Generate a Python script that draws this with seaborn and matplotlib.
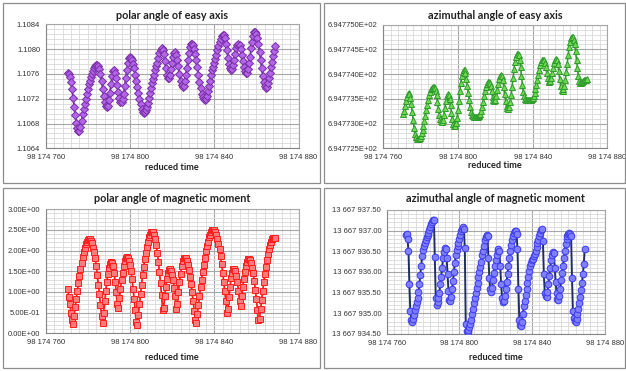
import numpy as np
import matplotlib
matplotlib.use("Agg")
import matplotlib.pyplot as plt
import seaborn as sns
from matplotlib.ticker import FixedLocator, FuncFormatter, MultipleLocator
from matplotlib.patches import Rectangle

# ---------------- data ----------------
time_start = 98174770.5
time_step = 0.5

polar_easy = [
    1.10762, 1.10760, 1.10755, 1.10747, 1.10735, 1.10721, 1.10707, 1.10693, 1.10681, 1.10673,
    1.10668, 1.10668, 1.10674, 1.10684, 1.10695, 1.10704, 1.10712, 1.10720, 1.10728, 1.10736,
    1.10743, 1.10749, 1.10755, 1.10760, 1.10765, 1.10769, 1.10772, 1.10774, 1.10775, 1.10773,
    1.10768, 1.10760, 1.10749, 1.10736, 1.10724, 1.10715, 1.10708, 1.10706, 1.10709, 1.10718,
    1.10730, 1.10744, 1.10756, 1.10764, 1.10766, 1.10762, 1.10754, 1.10742, 1.10731, 1.10721,
    1.10715, 1.10714, 1.10719, 1.10728, 1.10740, 1.10753, 1.10766, 1.10777, 1.10785, 1.10787,
    1.10786, 1.10782, 1.10776, 1.10769, 1.10759, 1.10749, 1.10739, 1.10729, 1.10719, 1.10711,
    1.10704, 1.10699, 1.10697, 1.10698, 1.10701, 1.10706, 1.10713, 1.10721, 1.10729, 1.10737,
    1.10745, 1.10752, 1.10759, 1.10766, 1.10772, 1.10778, 1.10786, 1.10793, 1.10798, 1.10801,
    1.10799, 1.10792, 1.10781, 1.10769, 1.10759, 1.10753, 1.10754, 1.10759, 1.10768, 1.10778,
    1.10787, 1.10793, 1.10795, 1.10791, 1.10783, 1.10772, 1.10760, 1.10749, 1.10742, 1.10739,
    1.10741, 1.10748, 1.10758, 1.10770, 1.10783, 1.10794, 1.10803, 1.10808, 1.10809, 1.10806,
    1.10800, 1.10792, 1.10782, 1.10771, 1.10759, 1.10747, 1.10737, 1.10728, 1.10722, 1.10719,
    1.10718, 1.10720, 1.10725, 1.10732, 1.10740, 1.10749, 1.10758, 1.10766, 1.10771, 1.10777,
    1.10784, 1.10791, 1.10798, 1.10805, 1.10812, 1.10817, 1.10821, 1.10823, 1.10822, 1.10818,
    1.10809, 1.10798, 1.10786, 1.10776, 1.10769, 1.10766, 1.10768, 1.10774, 1.10783, 1.10792,
    1.10801, 1.10807, 1.10809, 1.10807, 1.10800, 1.10791, 1.10781, 1.10771, 1.10764, 1.10761,
    1.10762, 1.10768, 1.10777, 1.10788, 1.10801, 1.10812, 1.10821, 1.10827, 1.10828, 1.10825,
    1.10818, 1.10808, 1.10796, 1.10783, 1.10769, 1.10757, 1.10747, 1.10740, 1.10737, 1.10739,
    1.10745, 1.10753, 1.10762, 1.10771, 1.10780, 1.10789, 1.10797, 1.10805,
]

azimuth_easy = [
    694.77319, 694.77326, 694.77336, 694.77346, 694.77354, 694.77359, 694.77361, 694.77359, 694.77352, 694.77340,
    694.77324, 694.77307, 694.77291, 694.77279, 694.77272, 694.77269, 694.77268, 694.77268, 694.77270, 694.77274,
    694.77280, 694.77287, 694.77296, 694.77306, 694.77316, 694.77327, 694.77338, 694.77348, 694.77357, 694.77364,
    694.77369, 694.77372, 694.77373, 694.77373, 694.77371, 694.77366, 694.77357, 694.77344, 694.77330, 694.77318,
    694.77309, 694.77305, 694.77304, 694.77308, 694.77318, 694.77332, 694.77346, 694.77356, 694.77360, 694.77357,
    694.77349, 694.77337, 694.77322, 694.77309, 694.77300, 694.77296, 694.77296, 694.77301, 694.77312, 694.77327,
    694.77346, 694.77365, 694.77383, 694.77397, 694.77405, 694.77409, 694.77408, 694.77402, 694.77391, 694.77377,
    694.77362, 694.77347, 694.77334, 694.77324, 694.77318, 694.77315, 694.77314, 694.77313, 694.77313, 694.77313,
    694.77314, 694.77315, 694.77317, 694.77320, 694.77326, 694.77334, 694.77344, 694.77355, 694.77366, 694.77375,
    694.77381, 694.77384, 694.77385, 694.77383, 694.77376, 694.77365, 694.77354, 694.77347, 694.77345, 694.77348,
    694.77356, 694.77367, 694.77380, 694.77391, 694.77397, 694.77399, 694.77396, 694.77388, 694.77375, 694.77359,
    694.77345, 694.77335, 694.77331, 694.77330, 694.77334, 694.77344, 694.77358, 694.77375, 694.77393, 694.77410,
    694.77425, 694.77435, 694.77440, 694.77441, 694.77438, 694.77429, 694.77415, 694.77397, 694.77379, 694.77364,
    694.77355, 694.77350, 694.77348, 694.77347, 694.77347, 694.77347, 694.77347, 694.77348, 694.77349, 694.77351,
    694.77355, 694.77361, 694.77369, 694.77379, 694.77389, 694.77399, 694.77409, 694.77418, 694.77424, 694.77428,
    694.77429, 694.77428, 694.77423, 694.77414, 694.77403, 694.77393, 694.77387, 694.77385, 694.77387, 694.77393,
    694.77402, 694.77413, 694.77422, 694.77428, 694.77430, 694.77428, 694.77420, 694.77406, 694.77390, 694.77376,
    694.77368, 694.77366, 694.77369, 694.77377, 694.77389, 694.77404, 694.77421, 694.77438, 694.77454, 694.77466,
    694.77473, 694.77476, 694.77475, 694.77470, 694.77460, 694.77446, 694.77429, 694.77412, 694.77396, 694.77387,
    694.77383, 694.77383, 694.77385, 694.77387, 694.77388, 694.77389, 694.77389, 694.77390,
]

polar_moment = [
    1.06, 0.88, 0.70, 0.50, 0.32, 0.22, 0.43, 0.63, 0.83, 1.03,
    1.21, 1.39, 1.56, 1.71, 1.84, 1.96, 2.06, 2.15, 2.21, 2.25,
    2.28, 2.28, 2.24, 2.18, 2.07, 1.96, 1.81, 1.63, 1.41, 1.18,
    0.95, 0.69, 0.43, 0.25, 0.50, 0.77, 1.02, 1.25, 1.43, 1.57,
    1.67, 1.72, 1.71, 1.62, 1.47, 1.25, 0.99, 0.70, 0.62, 0.85,
    1.08, 1.29, 1.47, 1.62, 1.74, 1.81, 1.84, 1.82, 1.76, 1.65,
    1.50, 1.31, 1.08, 0.83, 0.56, 0.27, 0.20, 0.45, 0.70, 0.94,
    1.18, 1.40, 1.60, 1.79, 1.95, 2.09, 2.22, 2.32, 2.39, 2.44,
    2.46, 2.45, 2.39, 2.28, 2.13, 1.95, 1.73, 1.48, 1.21, 0.92,
    0.56, 0.62, 0.90, 1.12, 1.32, 1.45, 1.53, 1.55, 1.51, 1.42,
    1.28, 1.10, 0.90, 0.60, 0.70, 1.00, 1.24, 1.44, 1.62, 1.74,
    1.81, 1.83, 1.81, 1.75, 1.65, 1.53, 1.37, 1.20, 1.00, 0.78,
    0.54, 0.31, 0.25, 0.47, 0.69, 0.90, 1.11, 1.30, 1.49, 1.66,
    1.83, 1.98, 2.11, 2.22, 2.32, 2.39, 2.45, 2.49, 2.50, 2.49,
    2.45, 2.39, 2.29, 2.17, 2.03, 1.86, 1.68, 1.47, 1.25, 1.02,
    0.78, 0.48, 0.58, 0.88, 1.13, 1.33, 1.47, 1.55, 1.56, 1.50,
    1.39, 1.23, 1.03, 0.78, 0.65, 0.90, 1.11, 1.31, 1.48, 1.63,
    1.73, 1.79, 1.80, 1.77, 1.70, 1.59, 1.45, 1.27, 1.05, 0.82,
    0.57, 0.31, 0.35, 0.58, 0.81, 1.03, 1.24, 1.43, 1.61, 1.77,
    1.92, 2.04, 2.14, 2.22, 2.27, 2.30, 2.31, 2.31,
]

azimuth_moment = [
    13667936.90, 13667936.91, 13667936.80, 13667936.50, 13667935.70, 13667935.05, 13667934.84, 13667934.80, 13667934.86, 13667934.96,
    13667935.08, 13667935.18, 13667935.27, 13667935.37, 13667935.52, 13667935.70, 13667935.93, 13667936.14, 13667936.38, 13667936.53,
    13667936.63, 13667936.71, 13667936.78, 13667936.85, 13667936.90, 13667936.95, 13667937.02, 13667937.09, 13667937.15, 13667937.21,
    13667937.27, 13667937.26, 13667936.36, 13667935.37, 13667935.19, 13667935.27, 13667935.36, 13667935.50, 13667935.70, 13667935.89,
    13667936.10, 13667936.33, 13667936.49, 13667936.58, 13667936.56, 13667936.33, 13667935.95, 13667935.55, 13667935.33, 13667935.30,
    13667935.40, 13667935.58, 13667935.78, 13667936.00, 13667936.22, 13667936.40, 13667936.53, 13667936.62, 13667936.71, 13667936.80,
    13667936.89, 13667936.98, 13667937.05, 13667937.08, 13667937.05, 13667936.57, 13667934.75, 13667934.58, 13667934.54, 13667934.60,
    13667934.66, 13667934.74, 13667934.85, 13667934.98, 13667935.11, 13667935.25, 13667935.38, 13667935.50, 13667935.61, 13667935.74,
    13667935.87, 13667936.00, 13667936.12, 13667936.25, 13667936.40, 13667936.52, 13667936.64, 13667936.77, 13667936.85, 13667936.89,
    13667936.86, 13667936.35, 13667935.85, 13667935.58, 13667935.52, 13667935.62, 13667935.80, 13667935.98, 13667936.15, 13667936.30,
    13667936.42, 13667936.50, 13667936.55, 13667936.50, 13667936.15, 13667935.70, 13667935.38, 13667935.28, 13667935.30, 13667935.42,
    13667935.58, 13667935.76, 13667935.95, 13667936.14, 13667936.33, 13667936.50, 13667936.65, 13667936.77, 13667936.87, 13667936.94,
    13667936.98, 13667936.98, 13667936.92, 13667936.55, 13667935.60, 13667934.85, 13667934.72, 13667934.70, 13667934.78, 13667934.98,
    13667935.18, 13667935.30, 13667935.45, 13667935.58, 13667935.74, 13667935.89, 13667936.03, 13667936.14, 13667936.22, 13667936.28,
    13667936.32, 13667936.38, 13667936.44, 13667936.52, 13667936.61, 13667936.70, 13667936.78, 13667936.87, 13667936.95, 13667937.01,
    13667937.03, 13667936.75, 13667935.95, 13667935.50, 13667935.41, 13667935.40, 13667935.52, 13667935.70, 13667935.90, 13667936.10,
    13667936.28, 13667936.42, 13667936.49, 13667936.45, 13667936.10, 13667935.75, 13667935.48, 13667935.35, 13667935.32, 13667935.42,
    13667935.60, 13667935.80, 13667935.98, 13667936.15, 13667936.34, 13667936.52, 13667936.68, 13667936.80, 13667936.88, 13667936.93,
    13667936.94, 13667936.93, 13667936.88, 13667935.85, 13667935.05, 13667934.88, 13667934.82, 13667934.80, 13667934.86, 13667934.98,
    13667935.10, 13667935.25, 13667935.40, 13667935.56, 13667935.74, 13667935.95, 13667936.20, 13667936.55,
]

x_ticks = [98174760, 98174800, 98174840, 98174880]
polar_easy_ticks = [1.1064, 1.1068, 1.1072, 1.1076, 1.1080, 1.1084]
azimuth_easy_ticks = [694.7725, 694.7730, 694.7735, 694.7740, 694.7745, 694.7750]
polar_moment_ticks = [0.0, 0.5, 1.0, 1.5, 2.0, 2.5, 3.0]
azimuth_moment_ticks = [13667934.5, 13667935.0, 13667935.5, 13667936.0,
                        13667936.5, 13667937.0, 13667937.5]

titles = ["polar angle of easy axis", "azimuthal angle of easy axis",
          "polar angle of magnetic moment", "azimuthal angle of magnetic moment"]
x_label = "reduced time"

# ---------------- style ----------------
sns.set_style("white")
plt.rcParams["font.family"] = ["Lato", "DejaVu Sans"]
TICK_FONT = ["Liberation Sans", "DejaVu Sans"]

W, H = 626, 371
fig = plt.figure(figsize=(W / 100, H / 100), dpi=100)


def fx(px):
    return px / W


def fy(py):
    return 1 - py / H


def thousands(v, _pos=None, dec=0):
    s = f"{v:,.{dec}f}"
    return s.replace(",", " ")


panels = [
    dict(vals=polar_easy, ticks=polar_easy_ticks,
         fmt=lambda v, p: f"{v:.4f}", yminor=0.00008,
         box=(3, 3, 320, 183), plot=(45.7, 24.3, 298.5, 148.3),
         title_y=15.5, xlab_y=167,
         marker="D", ms=3.7, face="#B066E6", edge="#7B2CA8", line="#6A2A98", lw=1.2),
    dict(vals=azimuth_easy, ticks=azimuth_easy_ticks,
         fmt=lambda v, p: f"{v:.6E}", yminor=0.0001,
         box=(324, 3, 625, 183), plot=(383.3, 24.7, 607.3, 148.3),
         title_y=15.5, xlab_y=166,
         marker="^", ms=5.0, face="#72DA52", edge="#2E9C2E", line="#2E9C2E", lw=1.2),
    dict(vals=polar_moment, ticks=polar_moment_ticks,
         fmt=lambda v, p: f"{v:.2E}", yminor=0.1,
         box=(3, 188, 320, 367.5), plot=(45.7, 209.3, 298.5, 333.3),
         title_y=199, xlab_y=357,
         marker="s", ms=4.0, face="#FF7A7A", edge="#FF1F1F", line="#FF1F1F", lw=1.3),
    dict(vals=azimuth_moment, ticks=azimuth_moment_ticks,
         fmt=lambda v, p: thousands(v, dec=2), yminor=0.1,
         box=(324, 188, 625, 367.5), plot=(386.7, 210, 604.7, 334),
         title_y=199, xlab_y=357,
         marker="o", ms=4.8, face="#7F7FFF", edge="#3B3BEF", line="#1F2F66", lw=1.4),
]

for i, p in enumerate(panels):
    vals = np.array(p["vals"], dtype=float)
    time = time_start + time_step * np.arange(len(vals))

    # chart-area frame
    bx0, by0, bx1, by1 = p["box"]
    fig.patches.append(Rectangle((fx(bx0), fy(by1)), fx(bx1) - fx(bx0), fy(by0) - fy(by1),
                                 transform=fig.transFigure, fill=False,
                                 edgecolor="#8C8C8C", linewidth=0.9))

    l, t, r, b = p["plot"]
    ax = fig.add_axes([fx(l), fy(b), fx(r) - fx(l), fy(t) - fy(b)])

    sns.lineplot(x=time, y=vals, ax=ax, color=p["line"], linewidth=p["lw"],
                 marker=p["marker"], markersize=p["ms"],
                 markerfacecolor=p["face"], markeredgecolor=p["edge"],
                 markeredgewidth=0.7, errorbar=None, sort=False, legend=False, zorder=3)

    ax.set_xlim(x_ticks[0], x_ticks[-1])
    ax.set_ylim(p["ticks"][0], p["ticks"][-1])
    ax.xaxis.set_major_locator(FixedLocator(x_ticks))
    ax.xaxis.set_minor_locator(MultipleLocator(4))
    ax.yaxis.set_major_locator(FixedLocator(p["ticks"]))
    ax.yaxis.set_minor_locator(MultipleLocator(p["yminor"]))
    ax.xaxis.set_major_formatter(FuncFormatter(lambda v, pos: thousands(v)))
    ax.yaxis.set_major_formatter(FuncFormatter(p["fmt"]))

    ax.grid(True, which="major", color="#A6A6A6", linewidth=0.8, zorder=0)
    ax.grid(True, which="minor", color="#D9D9D9", linewidth=0.6, zorder=0)
    ax.set_axisbelow(True)

    ax.tick_params(axis="both", which="major", labelsize=5.5, length=2.5, width=0.6,
                   color="#868686", labelcolor="#333333", pad=1.5)
    ax.tick_params(axis="both", which="minor", length=0)
    for lab in ax.get_xticklabels() + ax.get_yticklabels():
        lab.set_family(TICK_FONT)
    for side in ["left", "bottom"]:
        ax.spines[side].set_color("#868686")
        ax.spines[side].set_linewidth(0.8)
    for side in ["top", "right"]:
        ax.spines[side].set_color("#A6A6A6")
        ax.spines[side].set_linewidth(0.8)
    ax.set_xlabel("")
    ax.set_ylabel("")

    cx = (fx(l) + fx(r)) / 2
    fig.text(cx, fy(p["title_y"]), titles[i], ha="center", va="center",
             fontsize=7.8, fontweight="bold", color="#222222")
    fig.text(cx, fy(p["xlab_y"]), x_label, ha="center", va="center",
             fontsize=6.6, fontweight="bold", color="#222222")

fig.savefig("out.png", dpi=100)
